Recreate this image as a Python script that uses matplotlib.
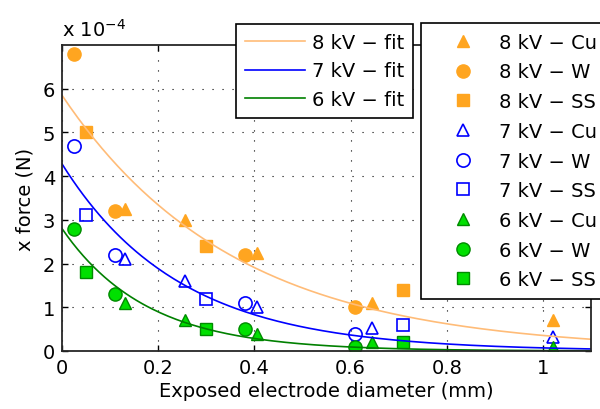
import numpy as np
import matplotlib
matplotlib.use("Agg")
import matplotlib.pyplot as plt

plt.rcParams['font.family'] = ['DejaVu Sans']
plt.rcParams['mathtext.fontset'] = 'dejavusans'

# data, force in units of 1e-4 N
x_w = [0.025, 0.11, 0.38, 0.61]
x_cu = [0.13, 0.255, 0.405, 0.645, 1.02]
x_ss = [0.05, 0.30, 0.71]

f8_w = [6.8, 3.2, 2.2, 1.0]
f8_cu = [3.25, 3.0, 2.25, 1.1, 0.72]
f8_ss = [5.0, 2.4, 1.4]

f7_w = [4.7, 2.2, 1.1, 0.4]
f7_cu = [2.1, 1.6, 1.0, 0.52, 0.33]
f7_ss = [3.1, 1.2, 0.6]

f6_w = [2.8, 1.3, 0.5, 0.1]
f6_cu = [1.1, 0.7, 0.4, 0.2, 0.1]
f6_ss = [1.8, 0.5, 0.2]

# exponential fit coefficients a*exp(-b*x)
fit_a = {'8': 5.85, '7': 4.28, '6': 2.8}
fit_b = {'8': 2.8, '7': 4.1, '6': 5.7}

orange = '#FFA520'
orange_fit = '#FFBC78'
blue = '#0000FF'
green = '#00E000'
green_edge = '#008A00'
green_fit = '#008000'
M = '\u2212'
FS = 14

fig = plt.figure(figsize=(6, 4.1), dpi=100)
ax = fig.add_axes([62/600, 58/410, 529/600, 306/410])

# points
pts = []
pts += ax.plot(x_cu, f8_cu, '^', color=orange, ms=9, label='8 kV ' + M + ' Cu')
pts += ax.plot(x_w, f8_w, 'o', color=orange, ms=9.5, label='8 kV ' + M + ' W')
pts += ax.plot(x_ss, f8_ss, 's', color=orange, ms=8, label='8 kV ' + M + ' SS')
pts += ax.plot(x_cu, f7_cu, '^', mfc='none', mec=blue, mew=1.2, ms=9, label='7 kV ' + M + ' Cu')
pts += ax.plot(x_w, f7_w, 'o', mfc='none', mec=blue, mew=1.2, ms=9.5, label='7 kV ' + M + ' W')
pts += ax.plot(x_ss, f7_ss, 's', mfc='none', mec=blue, mew=1.2, ms=8, label='7 kV ' + M + ' SS')
pts += ax.plot(x_cu, f6_cu, '^', mfc=green, mec=green_edge, mew=1, ms=9, label='6 kV ' + M + ' Cu')
pts += ax.plot(x_w, f6_w, 'o', mfc=green, mec=green_edge, mew=1, ms=9.5, label='6 kV ' + M + ' W')
pts += ax.plot(x_ss, f6_ss, 's', mfc=green, mec=green_edge, mew=1, ms=8, label='6 kV ' + M + ' SS')

# fit curves
xf = np.linspace(0, 1.1, 200)
fits = []
for kv, c in [('8', orange_fit), ('7', blue), ('6', green_fit)]:
    fits += ax.plot(xf, fit_a[kv] * np.exp(-fit_b[kv] * xf), '-', color=c, lw=1.2,
                    label=kv + ' kV ' + M + ' fit')

ax.set_xlim(0, 1.1)
ax.set_ylim(0, 7)
ax.set_xticks([0, 0.2, 0.4, 0.6, 0.8, 1])
ax.set_xticklabels(['0', '0.2', '0.4', '0.6', '0.8', '1'])
ax.set_yticks([0, 1, 2, 3, 4, 5, 6])
ax.tick_params(direction='in', labelsize=FS, length=4, width=1, top=True, right=True, pad=5)
ax.grid(True, color='black', linestyle=(0, (1, 8)), linewidth=0.8)
for s in ax.spines.values():
    s.set_color('#262626')
    s.set_linewidth(1.3)
ax.set_xlabel('Exposed electrode diameter (mm)', fontsize=FS, labelpad=3)
ax.set_ylabel('x force (N)', fontsize=FS, labelpad=6)
fig.text(62/600, 1 - 37/410, 'x 10$^{-4}$', fontsize=FS, ha='left', va='baseline')

leg1 = fig.legend(handles=fits, loc='upper left', bbox_to_anchor=(236/600, 1 - 25/410),
                  fontsize=FS, frameon=True, fancybox=False, edgecolor='black', framealpha=1,
                  handlelength=3.1, handletextpad=0.35, labelspacing=0.5, borderpad=0.45,
                  borderaxespad=0)
leg1.get_frame().set_linewidth(1.2)
leg2 = fig.legend(handles=pts, loc='upper left', bbox_to_anchor=(421/600, 1 - 24/410),
                  fontsize=FS, frameon=True, fancybox=False, edgecolor='black', framealpha=1,
                  handlelength=3.3, handletextpad=0.2, labelspacing=0.55, borderpad=0.5,
                  borderaxespad=0, numpoints=1)
leg2.get_frame().set_linewidth(1.2)

fig.savefig('out.png', dpi=100)
